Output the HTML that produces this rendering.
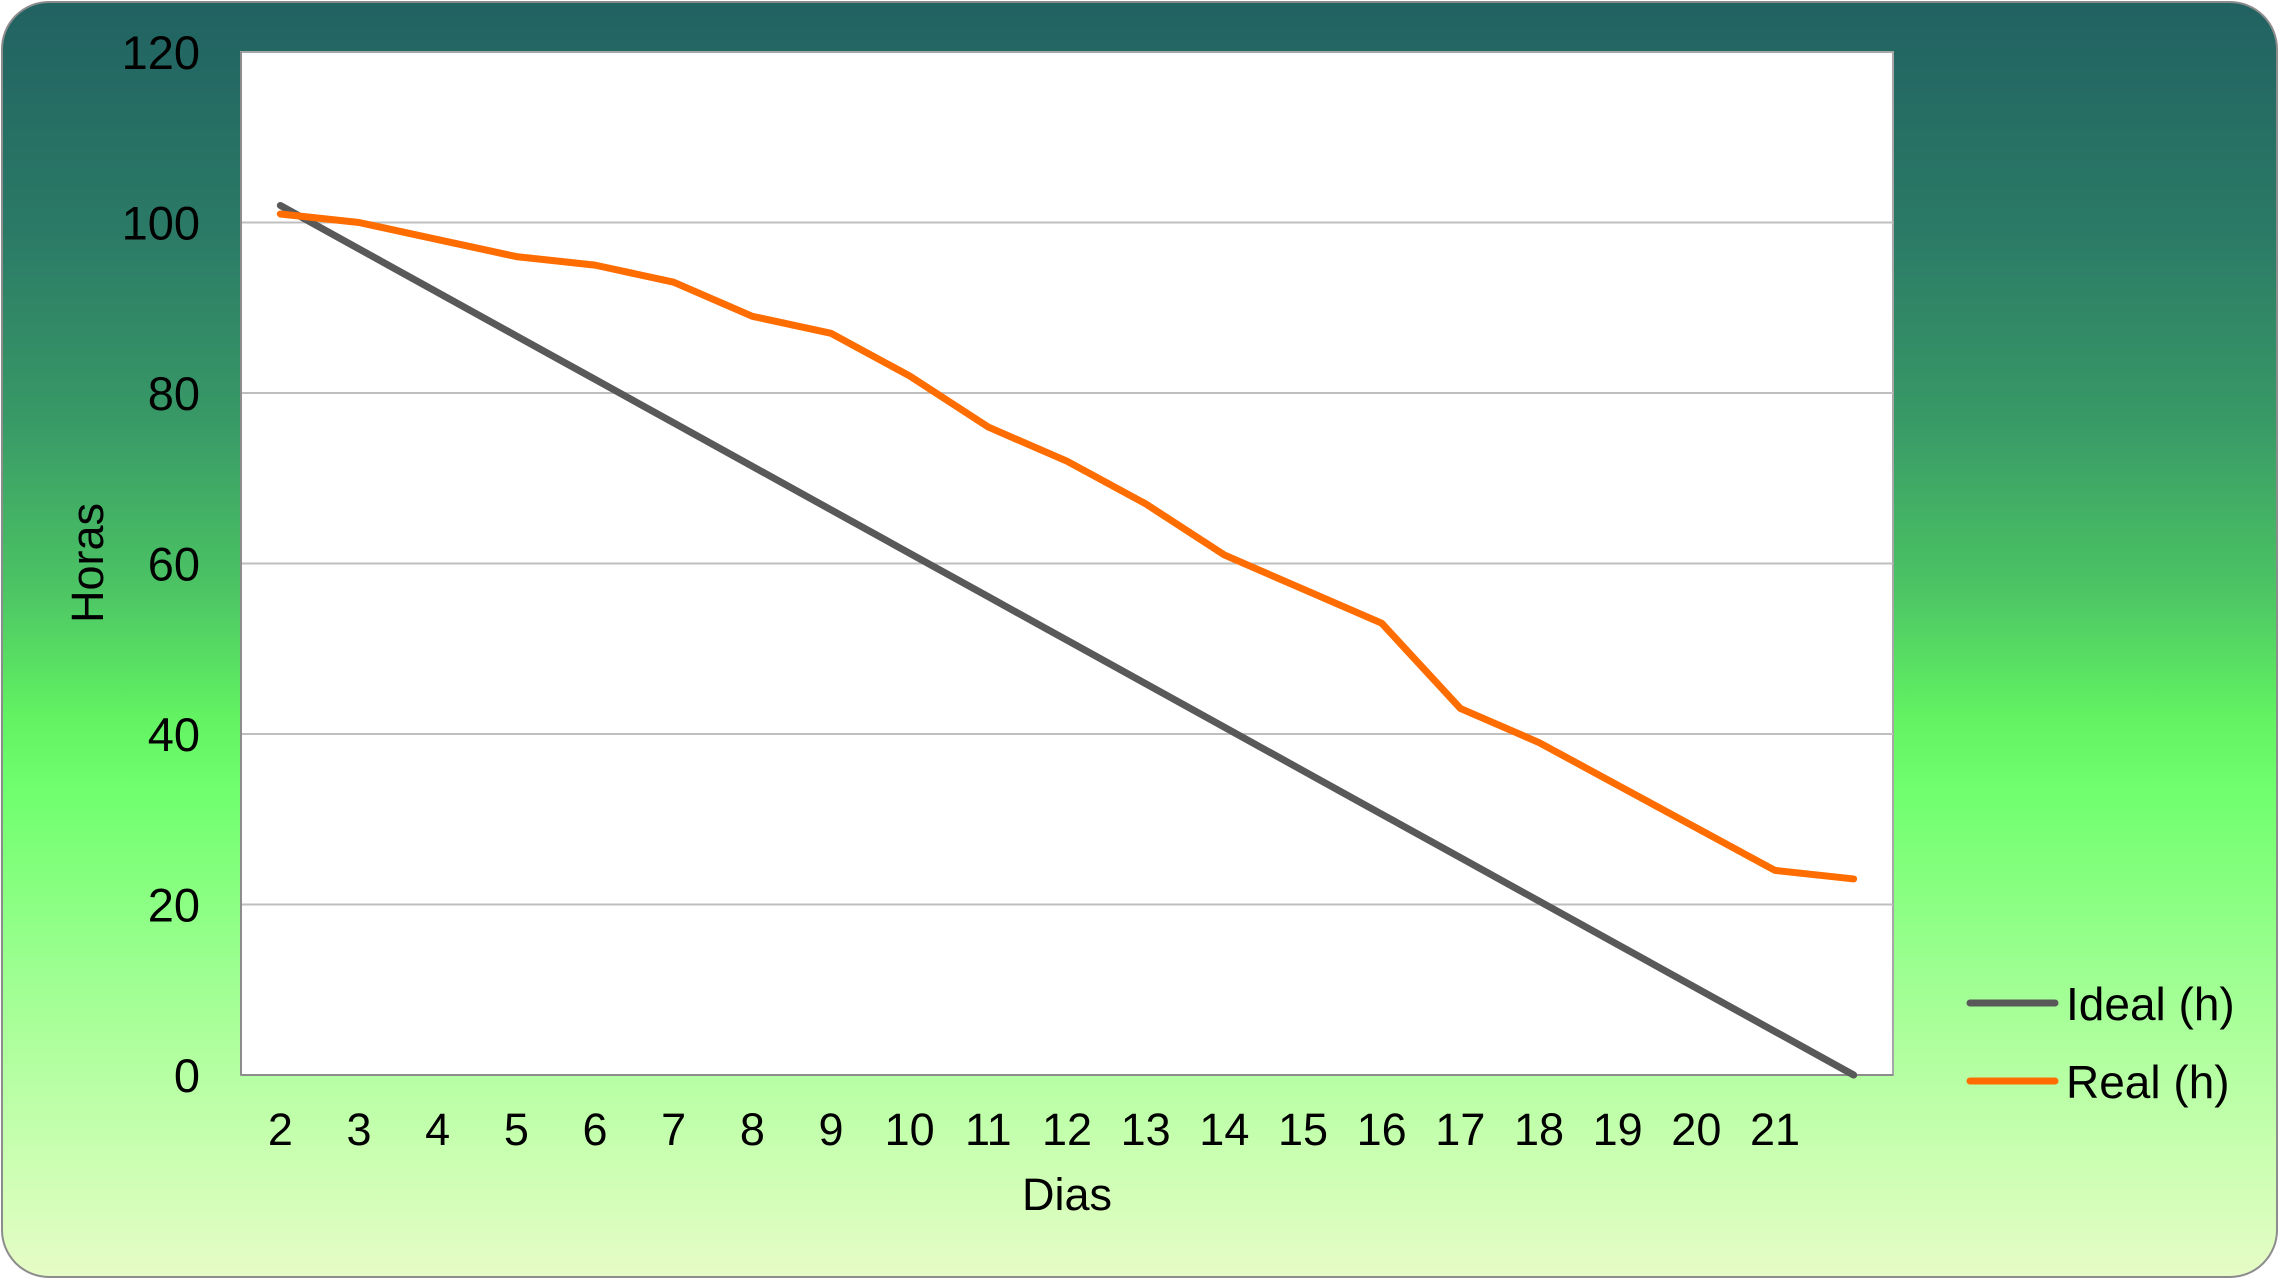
<!DOCTYPE html>
<html><head><meta charset="utf-8"><style>
html,body{margin:0;padding:0;width:2278px;height:1278px;overflow:hidden;background:#fff}
#card{position:absolute;left:1px;top:1px;width:2273px;height:1273px;border:2px solid #8c8c8c;border-radius:48px;
background:linear-gradient(to bottom,#216262 0%,#2b7a66 18%,#389a66 33%,#4cc464 46%,#62f262 56%,#70ff6e 62%,#9cff90 76%,#c8ffb0 90%,#e6fcc6 100%);}
svg{position:absolute;left:0;top:0}
text{font-family:"Liberation Sans",Arial,sans-serif;fill:#000}
</style></head><body>
<div id="card"></div>
<svg id="chart" width="2278" height="1278"></svg>
<script>
const categories=["2","3","4","5","6","7","8","9","10","11","12","13","14","15","16","17","18","19","20","21",""];
const idealValues=[102,96.9,91.8,86.7,81.6,76.5,71.4,66.3,61.2,56.1,51,45.9,40.8,35.7,30.6,25.5,20.4,15.3,10.2,5.1,0];
const realValues=[101,100,98,96,95,93,89,87,82,76,72,67,61,57,53,43,39,34,29,24,23];
const yTicks=[0,20,40,60,80,100,120];

const NS="http://www.w3.org/2000/svg";
const svg=document.getElementById('chart');
const L=241,R=1893,T=52,B=1075,YMAX=120;
const bw=(R-L)/categories.length;
function xs(i){return L+bw*(i+0.5);}
function ys(v){return B-(v/YMAX)*(B-T);}
function mk(tag,attrs,parent){const e=document.createElementNS(NS,tag);for(const k in attrs)e.setAttribute(k,attrs[k]);(parent||svg).appendChild(e);return e;}

const plot=mk('rect',{x:L,y:T,width:R-L,height:B-T,fill:'#fff',stroke:'#a6a6a6','stroke-width':2});



yTicks.forEach(v=>{
  if(v>0&&v<YMAX){
    const g=mk('line',{x1:L,x2:R,y1:ys(v),y2:ys(v),stroke:'#bfbfbf','stroke-width':2});
    
    
  }
  const t=mk('text',{x:200,y:ys(v)+17,'font-size':47,'text-anchor':'end'});
  t.textContent=v;
  
  
});
const ax=mk('line',{x1:L,x2:R,y1:B,y2:B,stroke:'#8c8c8c','stroke-width':2});


const ay=mk('line',{x1:L,x2:L,y1:T,y2:B,stroke:'#8c8c8c','stroke-width':2});



categories.forEach((c,i)=>{
  const t=mk('text',{x:xs(i),y:1145,'font-size':45,'text-anchor':'middle'});
  t.textContent=c;
  
  
});

function series(vals,color,name){
  const p=mk('polyline',{points:vals.map((v,i)=>xs(i)+','+ys(v)).join(' '),fill:'none',stroke:color,'stroke-width':7,'stroke-linecap':'round','stroke-linejoin':'round'});
  
  
}
series(idealValues,'#595959','ideal-line');
series(realValues,'#ff6d00','real-line');

const xt=mk('text',{x:1067,y:1210,'font-size':45,'text-anchor':'middle'});
xt.textContent='Dias';


const yt=mk('text',{x:0,y:0,'font-size':45,'text-anchor':'middle',transform:'translate(103,563) rotate(-90)'});
yt.textContent='Horas';



[['Ideal (h)','#595959',1003],['Real (h)','#ff6d00',1081]].forEach(([lab,col,y])=>{
  const g=mk('g',{});
  
  
  mk('line',{x1:1970,x2:2055,y1:y,y2:y,stroke:col,'stroke-width':7,'stroke-linecap':'round'},g);
  const t=mk('text',{x:2066,y:y+17,'font-size':46,fill:'#1a1a1a'},g);
  t.textContent=lab;
});
</script>
</body></html>
